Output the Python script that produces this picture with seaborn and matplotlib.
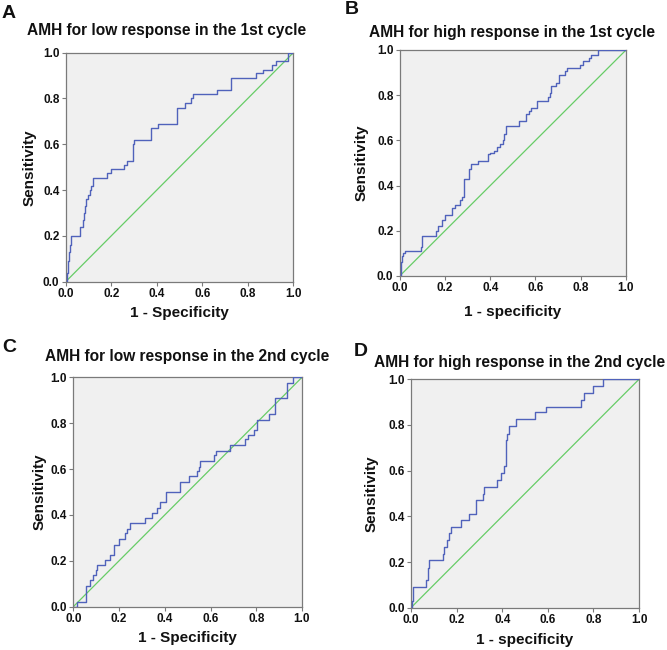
import matplotlib
matplotlib.use("Agg")
import matplotlib.pyplot as plt
import numpy as np
import pandas as pd
import seaborn as sns

# ROC step points (1 - specificity, sensitivity)
fpr_a = [0, 0.005, 0.01, 0.015, 0.02, 0.025, 0.06, 0.065, 0.075, 0.08, 0.085, 0.09, 0.1, 0.105,
         0.11, 0.12, 0.17, 0.18, 0.2, 0.25, 0.255, 0.27, 0.29, 0.295, 0.3, 0.37, 0.375, 0.4,
         0.405, 0.485, 0.49, 0.52, 0.525, 0.545, 0.55, 0.56, 0.66, 0.665, 0.72, 0.725, 0.83,
         0.835, 0.86, 0.865, 0.9, 0.905, 0.92, 0.925, 0.97, 0.975, 1.0]
tpr_a = [0, 0.04, 0.09, 0.13, 0.16, 0.2, 0.2, 0.24, 0.27, 0.3, 0.33, 0.36, 0.38, 0.4,
         0.42, 0.455, 0.455, 0.475, 0.49, 0.49, 0.51, 0.525, 0.525, 0.6, 0.62, 0.62, 0.67, 0.67,
         0.69, 0.69, 0.76, 0.76, 0.78, 0.78, 0.8, 0.82, 0.82, 0.835, 0.835, 0.89, 0.89,
         0.91, 0.91, 0.925, 0.925, 0.945, 0.945, 0.965, 0.965, 1.0, 1.0]

fpr_b = [0, 0.005, 0.01, 0.015, 0.025, 0.09, 0.095, 0.1, 0.155, 0.16, 0.17, 0.185, 0.2, 0.22,
         0.23, 0.245, 0.26, 0.265, 0.275, 0.28, 0.285, 0.3, 0.305, 0.315, 0.34, 0.345, 0.385,
         0.39, 0.4, 0.415, 0.43, 0.44, 0.445, 0.455, 0.46, 0.47, 0.52, 0.525, 0.555, 0.56, 0.57,
         0.58, 0.605, 0.65, 0.655, 0.665, 0.67, 0.69, 0.7, 0.705, 0.725, 0.73, 0.74, 0.79,
         0.795, 0.81, 0.83, 0.835, 0.845, 0.87, 0.875, 1.0]
tpr_b = [0, 0.06, 0.09, 0.1, 0.11, 0.11, 0.13, 0.175, 0.175, 0.2, 0.22, 0.25, 0.27, 0.27,
         0.3, 0.315, 0.315, 0.335, 0.35, 0.35, 0.43, 0.43, 0.475, 0.495, 0.495, 0.51, 0.51,
         0.54, 0.545, 0.555, 0.57, 0.57, 0.585, 0.6, 0.63, 0.665, 0.665, 0.685, 0.685, 0.715, 0.73,
         0.745, 0.775, 0.775, 0.79, 0.81, 0.84, 0.855, 0.855, 0.89, 0.89, 0.905, 0.92, 0.92,
         0.935, 0.95, 0.95, 0.965, 0.98, 0.98, 1.0, 1.0]

fpr_c = [0, 0.01, 0.015, 0.05, 0.055, 0.07, 0.075, 0.085, 0.09, 0.1, 0.105, 0.135, 0.14, 0.155,
         0.16, 0.175, 0.18, 0.195, 0.2, 0.22, 0.225, 0.235, 0.245, 0.25, 0.31, 0.315, 0.34,
         0.345, 0.36, 0.365, 0.375, 0.38, 0.4, 0.405, 0.46, 0.465, 0.5, 0.505, 0.535, 0.54, 0.55,
         0.555, 0.61, 0.615, 0.625, 0.68, 0.685, 0.745, 0.75, 0.76, 0.765, 0.785, 0.79, 0.8,
         0.805, 0.85, 0.855, 0.875, 0.88, 0.93, 0.935, 0.955, 0.96, 1.0]
tpr_c = [0, 0, 0.02, 0.02, 0.09, 0.09, 0.115, 0.14, 0.14, 0.16, 0.18, 0.18, 0.205, 0.205,
         0.225, 0.225, 0.27, 0.27, 0.295, 0.295, 0.32, 0.34, 0.34, 0.365, 0.365, 0.385, 0.385,
         0.41, 0.41, 0.43, 0.43, 0.455, 0.455, 0.5, 0.5, 0.545, 0.545, 0.57, 0.57, 0.59, 0.61,
         0.635, 0.635, 0.66, 0.68, 0.68, 0.705, 0.705, 0.73, 0.73, 0.75, 0.75, 0.77, 0.77,
         0.815, 0.815, 0.84, 0.84, 0.91, 0.91, 0.975, 0.975, 1.0, 1.0]

fpr_d = [0, 0.003, 0.01, 0.06, 0.065, 0.07, 0.075, 0.08, 0.135, 0.14, 0.145, 0.155, 0.16, 0.165,
         0.17, 0.175, 0.215, 0.22, 0.25, 0.255, 0.28, 0.285, 0.31, 0.315, 0.32, 0.37, 0.375,
         0.39, 0.395, 0.405, 0.41, 0.415, 0.42, 0.43, 0.455, 0.46, 0.54, 0.545, 0.585, 0.59,
         0.74, 0.745, 0.76, 0.795, 0.8, 0.835, 0.84, 1.0]
tpr_d = [0, 0.03, 0.09, 0.09, 0.12, 0.12, 0.175, 0.21, 0.21, 0.235, 0.265, 0.265, 0.295, 0.325,
         0.325, 0.355, 0.355, 0.385, 0.385, 0.41, 0.41, 0.47, 0.47, 0.5, 0.53, 0.53, 0.56,
         0.56, 0.59, 0.59, 0.62, 0.735, 0.76, 0.795, 0.795, 0.825, 0.825, 0.855, 0.855, 0.88,
         0.88, 0.91, 0.94, 0.94, 0.97, 0.97, 1.0, 1.0]

letters = ["A", "B", "C", "D"]
titles = ["AMH for low response in the 1st cycle", "AMH for high response in the 1st cycle",
          "AMH for low response in the 2nd cycle", "AMH for high response in the 2nd cycle"]
xlabels = ["1 - Specificity", "1 - specificity", "1 - Specificity", "1 - specificity"]
ticks = [0.0, 0.2, 0.4, 0.6, 0.8, 1.0]
tick_labels = ["0.0", "0.2", "0.4", "0.6", "0.8", "1.0"]

curves = [(fpr_a, tpr_a), (fpr_b, tpr_b), (fpr_c, tpr_c), (fpr_d, tpr_d)]

sns.set_style("ticks")
plt.rcParams['font.family'] = ['Liberation Sans', 'DejaVu Sans']
plt.rcParams['text.color'] = '#111111'
plt.rcParams['axes.labelcolor'] = '#111111'
plt.rcParams['xtick.labelcolor'] = '#111111'
plt.rcParams['ytick.labelcolor'] = '#111111'

W, H = 667, 650
fig = plt.figure(figsize=(W / 100, H / 100), dpi=100)

# axes boxes in pixels: left, top, right, bottom
boxes = [(65.7, 52.7, 293.3, 281.7), (399.7, 50, 626, 276),
         (73.3, 377.3, 302, 606.7), (411, 379.3, 639, 607.7)]
# title centre, letter centre, label positions (pixels)
title_pos = [(167, 30), (512, 33), (187, 356), (520, 362)]
letter_pos = [(9, 13), (352, 10), (9, 348), (361, 351)]
ylab_x = [30, 362, 40, 372]
xlab_y = [313, 312, 638, 640]

blue = "#5062bb"
green = "#66cc66"
gray = "#7a7a7a"

for i in range(4):
    l, t, r, b = boxes[i]
    ax = fig.add_axes([l / W, 1 - b / H, (r - l) / W, (b - t) / H])
    ax.set_facecolor("#f0f0f0")
    fpr, tpr = curves[i]
    df = pd.DataFrame({"fpr": fpr, "tpr": tpr})
    diag = pd.DataFrame({"x": [0.0, 1.0], "y": [0.0, 1.0]})
    sns.lineplot(data=diag, x="x", y="y", ax=ax, color=green, lw=0.9, zorder=2)
    sns.lineplot(data=df, x="fpr", y="tpr", ax=ax, color=blue, lw=1.0, sort=False,
                 estimator=None, drawstyle="steps-post", zorder=3)
    ax.set_xlim(0, 1)
    ax.set_ylim(0, 1)
    ax.set_xticks(ticks)
    ax.set_yticks(ticks)
    ax.set_xticklabels(tick_labels, fontsize=8.5, fontweight="bold")
    ax.set_yticklabels(tick_labels, fontsize=8.5, fontweight="bold")
    ax.tick_params(direction="out", length=3, width=0.8, color=gray, pad=1.5)
    for s in ax.spines.values():
        s.set_color(gray)
        s.set_linewidth(0.9)
    ax.set_xlabel(xlabels[i], fontsize=11, fontweight="bold", va="center")
    ax.set_ylabel("Sensitivity", fontsize=11, fontweight="bold", va="center")
    ax.xaxis.set_label_coords(((l + r) / 2 - l) / (r - l), (b - xlab_y[i]) / (b - t))
    ax.yaxis.set_label_coords((ylab_x[i] - l) / (r - l), 0.5)

    fig.text(title_pos[i][0] / W, 1 - title_pos[i][1] / H, titles[i], fontsize=11.2,
             fontweight="bold", ha="center", va="center")
    fig.text(letter_pos[i][0] / W, 1 - letter_pos[i][1] / H, letters[i], fontsize=14,
             fontweight="bold", ha="center", va="center")

fig.savefig("out.png", dpi=100)
